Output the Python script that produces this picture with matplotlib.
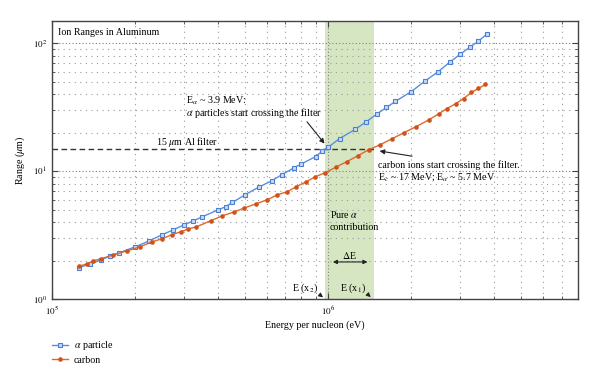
import numpy as np
import matplotlib
matplotlib.use("Agg")
import matplotlib.pyplot as plt

plt.rcParams['font.family'] = ['Liberation Serif', 'DejaVu Serif']
plt.rcParams['mathtext.fontset'] = 'stix'

# alpha particle: energy per nucleon (eV) and range in Al (um)
alpha_E = [1.25e5, 1.375e5, 1.5e5, 1.625e5, 1.75e5, 2.0e5, 2.25e5, 2.5e5, 2.75e5, 3.0e5,
           3.25e5, 3.5e5, 4.0e5, 4.25e5, 4.5e5, 5.0e5, 5.6e5, 6.25e5, 6.8e5, 7.5e5,
           8.0e5, 9.0e5, 9.5e5, 1.0e6, 1.1e6, 1.25e6, 1.375e6, 1.5e6, 1.625e6, 1.75e6,
           2.0e6, 2.25e6, 2.5e6, 2.75e6, 3.0e6, 3.25e6, 3.5e6, 3.75e6]
alpha_R = [1.76, 1.88, 2.02, 2.17, 2.30, 2.56, 2.85, 3.18, 3.48, 3.80,
           4.09, 4.40, 4.99, 5.27, 5.70, 6.54, 7.50, 8.42, 9.40, 10.6,
           11.4, 13.0, 14.3, 15.4, 18.0, 21.2, 24.4, 28.0, 31.5, 35.1,
           42.0, 51.0, 60.0, 71.0, 82.0, 93.0, 104.0, 118.0]

# carbon: energy per nucleon (eV) and range in Al (um)
carbon_E = [1.25e5, 1.34e5, 1.41e5, 1.50e5, 1.66e5, 1.87e5, 2.08e5, 2.30e5, 2.50e5, 2.71e5,
            2.92e5, 3.12e5, 3.33e5, 3.75e5, 4.14e5, 4.57e5, 4.97e5, 5.49e5, 6.02e5, 6.55e5,
            7.11e5, 7.66e5, 8.33e5, 8.98e5, 9.76e5, 1.07e6, 1.17e6, 1.28e6, 1.40e6, 1.54e6,
            1.70e6, 1.88e6, 2.08e6, 2.32e6, 2.52e6, 2.69e6, 2.90e6, 3.09e6, 3.30e6, 3.50e6, 3.71e6]
carbon_R = [1.81, 1.88, 1.99, 2.06, 2.21, 2.38, 2.56, 2.80, 2.96, 3.18,
            3.35, 3.54, 3.67, 4.09, 4.48, 4.80, 5.16, 5.56, 5.98, 6.54,
            6.91, 7.56, 8.27, 9.05, 9.73, 10.8, 11.9, 13.2, 14.7, 16.1,
            17.9, 20.0, 22.3, 25.3, 28.2, 30.9, 33.8, 37.0, 41.3, 44.4, 47.7]

filter_um = 15
band_lo, band_hi = 0.97e6, 1.47e6   # E(x2), E(x1)

FS = 7.2
ARROW = dict(color='#222222', lw=0.8)

fig = plt.figure(figsize=(6, 3.79), dpi=100)
ax = fig.add_axes([0.0867, 0.211, 0.876, 0.734])

ax.set_xscale('log')
ax.set_yscale('log')
ax.set_xlim(1e5, 8e6)
ax.set_ylim(1, 150)

# shaded region for pure alpha contribution
ax.axvspan(band_lo, band_hi, color='#d6e6c3', zorder=0, lw=0)

ax.grid(True, which='major', color='#808080', linestyle=(0, (1, 2)), linewidth=0.8)
ax.grid(True, which='minor', color='#9a9a9a', linestyle=(0, (1, 4)), linewidth=0.8)
ax.set_axisbelow(True)

ax.plot(alpha_E, alpha_R, color='#5b8ede', lw=1, marker='s', ms=3.4,
        mfc='#c9d9f3', mec='#4a7fd4', mew=0.8, label=r'$\alpha$ particle', zorder=3)
ax.plot(carbon_E, carbon_R, color='#e0682a', lw=1, marker='o', ms=2.3,
        mfc='#d0521a', mec='#d0521a', label='carbon', zorder=3)

# filter thickness line
ax.plot([1e5, 1.5e6], [filter_um, filter_um], color='#333333', lw=1, ls=(0, (4, 2.5)), zorder=2)
ax.text(3.07e5, 15.9, r'15 $\mu$m Al filter', fontsize=FS, ha='center', va='baseline')

ax.text(1.05e5, 115.6, 'Ion Ranges in Aluminum', fontsize=FS, va='baseline')

ax.text(3.05e5, 33.8, r'E$_\alpha$ ~ 3.9 MeV:', fontsize=FS, va='baseline')
ax.text(3.05e5, 26.8, r'$\alpha$ particles start crossing the filter', fontsize=FS, va='baseline')
ax.annotate('', xy=(9.84e5, 15.8), xytext=(8.26e5, 25.3),
            arrowprops=dict(arrowstyle='-|>', mutation_scale=7, **ARROW))

ax.text(1.52e6, 10.65, 'carbon ions start crossing the filter.', fontsize=FS, va='baseline')
ax.text(1.52e6, 8.58, r'E$_c$ ~ 17 MeV; E$_\alpha$ ~ 5.7 MeV', fontsize=FS, va='baseline')
ax.annotate('', xy=(1.50e6, 14.5), xytext=(2.06e6, 13.0),
            arrowprops=dict(arrowstyle='-|>', mutation_scale=7, **ARROW))

ax.text(1.016e6, 4.32, r'Pure $\alpha$', fontsize=FS, va='baseline')
ax.text(1.016e6, 3.47, 'contribution', fontsize=FS, va='baseline')
ax.annotate('', xy=(1.016e6, 1.95), xytext=(1.42e6, 1.95),
            arrowprops=dict(arrowstyle='<|-|>', mutation_scale=6, **ARROW))
ax.text(1.19e6, 2.06, r'$\Delta$E', fontsize=FS, ha='center', va='baseline')

ax.text(8.26e5, 1.155, r'E (x$_2$)', fontsize=FS, ha='center', va='baseline')
ax.annotate('', xy=(9.76e5, 1.0), xytext=(9.12e5, 1.12),
            arrowprops=dict(arrowstyle='-|>', mutation_scale=6, **ARROW))
ax.text(1.23e6, 1.155, r'E (x$_1$)', fontsize=FS, ha='center', va='baseline')
ax.annotate('', xy=(1.45e6, 1.0), xytext=(1.37e6, 1.12),
            arrowprops=dict(arrowstyle='-|>', mutation_scale=6, **ARROW))

ax.set_xlabel('Energy per nucleon (eV)', fontsize=FS, labelpad=3)
ax.set_ylabel(r'Range ($\mu$m)', fontsize=FS, labelpad=4)

ax.set_xticks([1e5, 1e6])
ax.set_xticklabels([r'$10^5$', r'$10^6$'])
ax.set_yticks([1, 10, 100])
ax.set_yticklabels([r'$10^0$', r'$10^1$', r'$10^2$'])
ax.tick_params(which='both', direction='in', top=True, right=True, labelsize=6.5, color='#444444')
ax.tick_params(which='major', length=4)
ax.tick_params(which='minor', length=2.5)
ax.tick_params(axis='x', pad=4)
for s in ax.spines.values():
    s.set_color('#444444')
    s.set_linewidth(1)

fig.legend(loc='upper left', bbox_to_anchor=(0.08, 0.115), frameon=False, fontsize=FS,
           handlelength=1.6, handletextpad=0.6, labelspacing=0.35, borderaxespad=0)

fig.savefig('out.png', dpi=100)
